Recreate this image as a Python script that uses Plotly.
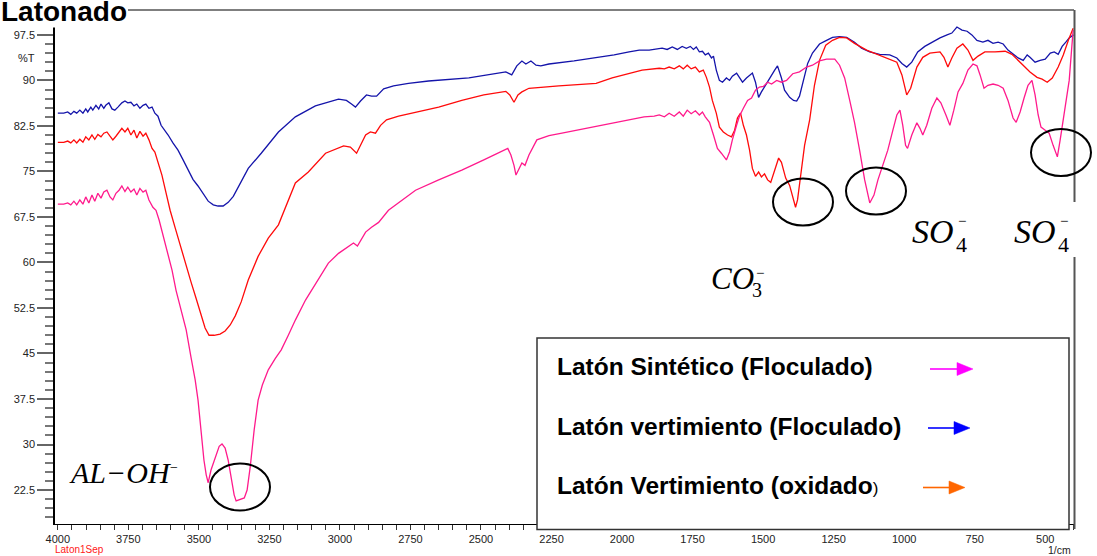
import plotly.graph_objects as go

# ---------------- data (wavenumber 1/cm, %T) ----------------
blue_pts = [(4000,84.6),(3979,84.6),(3965,84.8),(3954,84.4),(3943,84.9),(3933,84.6),(3922,85.1),(3911,84.6),(3901,85.3),(3894,84.8),
 (3883,85.6),(3876,85.1),(3865,85.9),(3855,85.3),(3847,86.1),(3837,85.4),(3830,85.9),(3819,86.3),(3808,85.3),(3798,85.1),
 (3787,85.6),(3773,86.3),(3762,86.6),(3752,86.3),(3741,86.4),(3730,85.8),(3720,86.1),(3709,85.4),(3698,85.9),(3688,86.1),
 (3677,85.4),(3666,85.6),(3656,84.6),(3645,84.1),(3634,82.6),(3620,81.8),(3609,81.0),(3592,79.7),(3574,78.5),(3556,76.9),
 (3538,75.2),(3521,73.7),(3503,72.6),(3485,71.3),(3467,70.1),(3449,69.5),(3432,69.3),(3414,69.3),(3396,69.9),(3378,70.9),
 (3361,72.4),(3343,73.9),(3325,75.5),(3279,78.0),(3218,81.5),(3158,84.0),(3087,85.8),(3005,86.9),(2977,86.7),(2959,86.1),
 (2945,85.6),(2927,86.6),(2906,87.6),(2888,87.4),(2870,87.4),(2845,88.6),(2810,89.1),(2757,89.5),(2686,89.9),(2543,90.4),
 (2412,91.4),(2391,90.9),(2373,92.4),(2355,93.2),(2341,92.7),(2323,93.2),(2305,92.5),(2288,92.4),(2259,92.7),(2170,93.2),
 (2092,93.7),(2028,94.2),(1975,94.7),(1939,95.0),(1904,95.0),(1858,95.3),(1840,95.1),(1822,95.5),(1804,95.1),(1787,95.6),
 (1772,95.3),(1758,95.6),(1747,95.1),(1737,95.5),(1726,94.7),(1715,94.8),(1705,94.2),(1694,94.5),(1683,93.7),(1676,94.0),
 (1666,91.7),(1655,90.0),(1644,89.7),(1630,90.4),(1619,90.0),(1609,90.7),(1594,91.2),(1584,90.5),(1573,89.7),(1559,90.4),
 (1548,90.9),(1538,91.2),(1527,89.7),(1516,87.2),(1506,88.1),(1495,89.0),(1484,89.7),(1470,90.9),(1459,91.7),(1449,92.4),
 (1435,90.4),(1424,88.4),(1406,87.2),(1392,86.7),(1381,86.6),(1371,87.4),(1356,90.0),(1342,92.8),(1325,94.5),(1300,96.0),
 (1275,96.6),(1254,97.1),(1229,97.2),(1204,97.1),(1176,96.3),(1151,95.3),(1122,94.7),(1087,94.3),(1051,94.2),(1026,93.7),
 (1008,92.8),(991,92.2),(973,93.0),(952,94.7),(927,95.6),(902,96.3),(873,97.0),(848,97.5),(831,97.8),(813,98.8),
 (795,98.3),(777,98.1),(760,97.5),(742,96.6),(721,96.3),(703,96.6),(685,96.1),(667,96.3),(649,96.0),(632,95.0),
 (614,94.3),(596,93.7),(578,93.3),(564,94.2),(554,93.8),(536,93.0),(518,93.3),(500,93.5),(482,94.5),(468,94.7),
 (454,94.3),(440,95.6),(427,96.3),(415,97.0),(400,97.5)]

red_pts = [(4000,79.8),(3979,79.8),(3965,80.0),(3954,79.7),(3943,80.2),(3933,79.7),(3922,80.3),(3911,79.8),(3901,80.7),(3890,80.2),
 (3879,81.0),(3869,80.3),(3858,81.1),(3847,80.7),(3837,81.3),(3826,81.5),(3815,80.8),(3805,80.2),(3794,80.8),(3783,81.6),
 (3773,82.1),(3762,81.5),(3752,82.1),(3741,81.0),(3730,81.8),(3720,80.5),(3709,81.6),(3698,80.8),(3688,81.3),(3677,80.2),
 (3666,78.8),(3656,78.2),(3645,76.4),(3631,74.4),(3617,71.6),(3602,68.6),(3584,65.7),(3567,62.9),(3549,60.1),(3528,56.8),
 (3510,54.1),(3492,51.5),(3478,49.2),(3464,48.0),(3446,48.0),(3425,48.2),(3407,48.7),(3389,49.7),(3371,51.2),(3350,53.5),
 (3325,57.1),(3290,61.0),(3254,64.0),(3218,66.2),(3183,70.3),(3158,73.1),(3112,74.9),(3051,78.0),(2987,79.2),(2963,79.0),
 (2941,78.0),(2927,79.3),(2909,81.0),(2892,81.5),(2874,81.3),(2856,82.6),(2835,83.5),(2792,84.1),(2721,84.9),(2650,85.6),
 (2568,86.7),(2490,87.6),(2412,88.2),(2398,87.6),(2383,86.4),(2369,87.6),(2355,88.1),(2330,88.7),(2224,89.1),(2092,89.5),
 (2035,90.4),(1975,91.2),(1929,91.7),(1868,92.0),(1850,91.9),(1833,92.2),(1815,91.9),(1797,92.4),(1783,91.9),(1769,92.5),
 (1755,91.9),(1740,92.2),(1726,91.4),(1712,91.7),(1701,90.5),(1690,88.9),(1680,86.7),(1666,84.6),(1655,82.3),(1641,81.5),
 (1626,81.0),(1612,80.7),(1601,81.8),(1591,83.8),(1580,84.6),(1570,82.6),(1559,81.0),(1548,78.5),(1538,75.5),(1527,74.2),
 (1516,74.9),(1506,74.1),(1495,74.6),(1484,73.6),(1473,73.2),(1459,75.2),(1445,77.2),(1435,76.5),(1420,73.9),(1406,72.7),
 (1392,70.3),(1385,69.1),(1378,70.3),(1367,74.4),(1353,79.3),(1335,83.5),(1318,89.2),(1300,93.3),(1278,95.8),(1254,96.6),
 (1229,97.1),(1204,97.0),(1176,96.1),(1133,95.0),(1097,94.3),(1062,93.7),(1026,93.0),(1008,90.9),(991,87.6),(977,88.7),
 (955,92.2),(934,93.8),(909,94.5),(873,94.7),(859,93.8),(845,92.2),(831,93.7),(813,95.3),(792,96.0),(774,95.0),
 (756,93.3),(738,94.0),(714,94.7),(678,94.7),(642,94.8),(618,94.3),(596,93.3),(575,92.5),(554,91.4),(529,90.5),
 (511,90.2),(493,89.7),(475,90.4),(454,92.2),(436,94.2),(418,96.6),(401,98.6)]

pink_pts = [(4000,69.6),(3979,69.6),(3965,69.8),(3954,69.5),(3943,70.1),(3933,69.5),(3922,70.3),(3911,69.6),(3901,70.8),(3890,69.8),
 (3879,71.1),(3869,70.1),(3858,71.4),(3847,70.6),(3837,71.6),(3826,71.9),(3815,70.8),(3805,70.3),(3794,71.4),(3783,71.9),
 (3773,72.6),(3762,71.7),(3752,72.4),(3741,71.6),(3730,72.1),(3720,71.1),(3709,72.2),(3698,71.6),(3688,71.9),(3677,70.3),
 (3663,69.1),(3652,68.6),(3641,67.0),(3627,64.5),(3609,61.0),(3595,58.7),(3581,55.4),(3563,52.1),(3545,48.9),(3528,44.4),
 (3513,40.6),(3503,37.3),(3492,31.9),(3482,27.4),(3474,25.0),(3467,23.7),(3457,25.8),(3442,27.9),(3428,29.7),(3418,30.1),
 (3407,29.4),(3396,27.4),(3385,24.5),(3375,21.7),(3368,20.7),(3354,21.0),(3339,21.2),(3329,22.5),(3318,26.3),(3304,32.4),
 (3290,37.3),(3275,39.8),(3254,42.3),(3229,44.2),(3208,45.6),(3183,48.0),(3158,50.5),(3122,53.8),(3076,57.4),(3041,59.9),
 (3005,61.5),(2970,62.7),(2952,63.2),(2938,62.7),(2923,63.8),(2909,65.0),(2888,65.8),(2863,66.6),(2828,68.6),(2792,69.8),
 (2732,71.9),(2650,73.6),(2568,75.2),(2490,76.9),(2405,78.8),(2394,77.7),(2383,76.0),(2376,74.4),(2366,75.5),(2355,76.4),
 (2344,76.0),(2330,77.7),(2302,80.2),(2259,80.9),(2213,81.3),(2081,82.5),(1975,83.5),(1922,84.0),(1886,84.1),(1868,84.3),
 (1850,84.0),(1833,84.6),(1815,84.1),(1797,84.8),(1783,84.1),(1769,85.1),(1755,84.5),(1740,85.0),(1726,84.3),(1715,84.8),
 (1705,84.0),(1690,83.1),(1676,81.0),(1662,78.8),(1648,78.0),(1637,77.2),(1630,76.9),(1619,78.2),(1609,80.2),(1594,82.6),
 (1584,84.1),(1570,85.4),(1555,86.7),(1541,87.1),(1527,88.4),(1513,88.9),(1499,89.0),(1484,89.7),(1470,89.4),(1452,90.0),
 (1435,89.7),(1417,90.0),(1395,91.1),(1371,91.4),(1346,92.2),(1325,92.5),(1300,93.2),(1275,93.5),(1246,93.5),(1229,92.5),
 (1211,90.4),(1193,86.7),(1176,83.1),(1158,78.5),(1140,73.6),(1122,69.8),(1107,71.1),(1093,73.6),(1076,76.0),(1058,78.5),
 (1040,81.8),(1026,84.3),(1015,85.1),(1005,82.6),(995,79.3),(988,78.8),(973,81.0),(955,83.0),(944,82.1),(934,81.0),
 (920,82.6),(902,85.4),(884,87.1),(870,86.3),(852,84.3),(838,82.6),(824,85.1),(809,88.1),(792,89.5),(774,91.7),
 (756,92.7),(742,92.4),(731,90.9),(717,88.7),(703,89.2),(685,89.4),(667,89.2),(649,88.7),(632,86.7),(614,83.8),
 (603,83.1),(589,84.8),(575,87.1),(561,89.2),(547,90.0),(536,87.6),(525,84.3),(515,82.3),(500,81.8),(486,81.3),
 (472,79.3),(457,77.4),(447,80.2),(436,83.8),(425,86.7),(415,90.0),(408,94.2),(401,98.3)]

series_names = ["Latón vertimiento (Floculado)", "Latón Vertimiento (oxidado)", "Latón Sintético (Floculado)"]
series_colors = ["#1414AA", "#FF0A0A", "#FF1A8C"]

x_range = [4010, 398]
y_range = [16.9, 101.6]
x_dtick = 250
y_dtick = 7.5

# ---------------- figure ----------------
W, H = 1097, 556
L, R, T, B = 55, 1074, 10, 524

def fx(p):
    return (p - L) / (R - L)

def fy(p):
    return (B - p) / (B - T)

fig = go.Figure()
for name, pts, col in zip(series_names, [blue_pts, red_pts, pink_pts], series_colors):
    fig.add_trace(go.Scatter(
        x=[p[0] for p in pts], y=[p[1] for p in pts], mode="lines", name=name,
        line=dict(color=col, width=1.3), showlegend=False, hoverinfo="skip"))

SANS = "Liberation Sans, Arial, sans-serif"
SERIF = "Liberation Serif, Times New Roman, serif"

fig.update_layout(
    width=W, height=H,
    margin=dict(l=L, r=W - R, t=T, b=H - B, pad=0),
    paper_bgcolor="white", plot_bgcolor="white", showlegend=False,
)
fig.update_xaxes(
    range=x_range, tick0=0, dtick=x_dtick, tickformat="d",
    ticks="outside", ticklen=5, tickwidth=1, tickcolor="#333",
    showline=True, linecolor="black", linewidth=1.2,
    showgrid=False, zeroline=False,
    tickfont=dict(family=SANS, size=11, color="#222"),
    minor=dict(tick0=0, dtick=50, ticks="outside", ticklen=5, tickwidth=1, tickcolor="#333"),
)
fig.update_yaxes(
    range=y_range, tick0=22.5, dtick=y_dtick,
    ticks="outside", ticklen=16, tickwidth=1.5, tickcolor="#666",
    showline=True, linecolor="black", linewidth=1.5,
    showgrid=False, zeroline=False,
    tickfont=dict(family=SANS, size=11, color="#222"),
    minor=dict(tick0=22.5, dtick=1.5, ticks="outside", ticklen=8, tickwidth=1.5, tickcolor="#777"),
)

shapes = []
# top border (starts after the title) and grey right border
shapes.append(dict(type="line", xref="paper", yref="paper", x0=fx(128), x1=1, y0=1, y1=1,
                   line=dict(color="black", width=1.2), layer="above"))
shapes.append(dict(type="line", xref="paper", yref="paper", x0=fx(1074.5), x1=fx(1074.5), y0=fy(529), y1=1,
                   line=dict(color="#555", width=2), layer="above"))
# white patch where the SO4 label interrupts the right border
shapes.append(dict(type="rect", xref="paper", yref="paper", x0=fx(1067), x1=fx(1083), y0=fy(257), y1=fy(202),
                   fillcolor="white", line=dict(width=0), layer="above"))
# legend box
shapes.append(dict(type="rect", xref="paper", yref="paper", x0=fx(537), x1=fx(1069), y0=fy(529.5), y1=fy(338),
                   fillcolor="white", line=dict(color="#333", width=1.5), layer="above"))
# ellipses
for cx, cy in [(240, 487), (803, 202), (876, 191), (1061, 152.5)]:
    shapes.append(dict(type="circle", xref="paper", yref="paper",
                       x0=fx(cx - 30), x1=fx(cx + 30), y0=fy(cy + 23.5), y1=fy(cy - 23.5),
                       line=dict(color="black", width=2), layer="above"))
# legend arrows
for (xs, xt, yy, col) in [(930, 973, 369, "#FF00FF"), (928, 970, 428, "#0000FF"), (923, 965, 487.5, "#FF6600")]:
    hx = xt - 16
    shapes.append(dict(type="line", xref="paper", yref="paper", x0=fx(xs), x1=fx(hx), y0=fy(yy), y1=fy(yy),
                       line=dict(color=col, width=1.6), layer="above"))
    path = "M {:.5f},{:.5f} L {:.5f},{:.5f} L {:.5f},{:.5f} Z".format(
        fx(hx), fy(yy - 6.5), fx(xt), fy(yy), fx(hx), fy(yy + 6.5))
    shapes.append(dict(type="path", xref="paper", yref="paper", path=path,
                       fillcolor=col, line=dict(color=col, width=0.5), layer="above"))
fig.update_layout(shapes=shapes)

ann = []
def text(s, x, y, size, family=SANS, color="black", xanchor="left", bg=None):
    d = dict(text=s, xref="paper", yref="paper", x=fx(x), y=fy(y), xanchor=xanchor, yanchor="middle",
             showarrow=False, font=dict(family=family, size=size, color=color), borderpad=0)
    if bg:
        d["bgcolor"] = bg
    ann.append(d)

text("<b>Latonado</b>", 0, 12, 28, bg="white")
text("%T", 26, 58, 11, color="#222", xanchor="center")
text("Laton1Sep", 54, 549.5, 10, color="#FF2020")
text("1/cm", 1047, 549.5, 10.5, color="#222")

# legend texts
text("<b>Latón Sintético (Floculado)</b>", 556, 366, 24.5)
text("<b>Latón vertimiento (Floculado)</b>", 556, 426, 24.5)
text("<b>Latón Vertimiento (oxidado</b><span style='font-size:17px'>)</span>", 556, 485, 24.5)

# chemistry labels
text("<i>AL−OH</i>", 68, 472, 30, family=SERIF)
text("−", 169, 467, 14, family=SERIF)
text("<i>CO</i>", 710, 279, 31, family=SERIF)
text("3", 751, 290, 20, family=SERIF)
text("−", 755, 273, 15, family=SERIF)
for sx in (911, 1013):
    text("<i>SO</i>", sx, 231, 34, family=SERIF)
    text("4", sx + 44, 244, 22, family=SERIF)
    text("−", sx + 46, 221, 15, family=SERIF)

fig.update_layout(annotations=ann)
fig.write_html("out.html")
